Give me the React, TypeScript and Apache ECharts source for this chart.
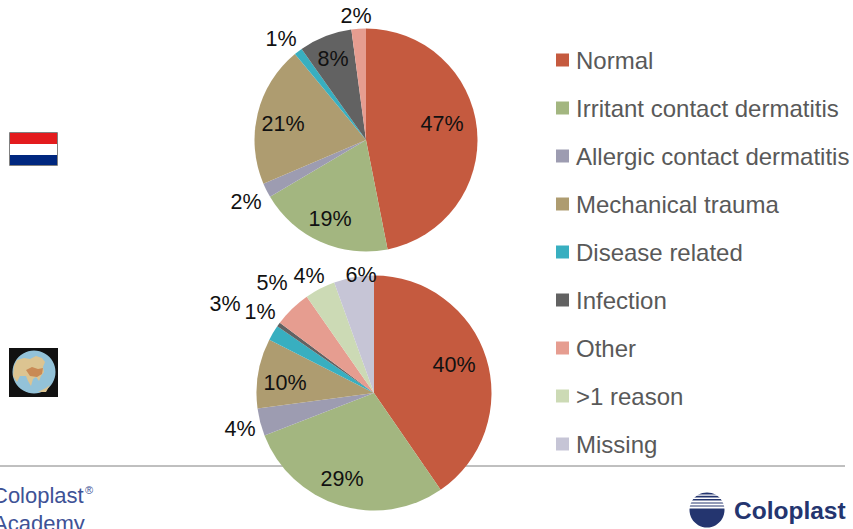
import React, { useEffect, useRef } from "react";
import * as echarts from "echarts";

const categories = ["Normal", "Irritant contact dermatitis", "Allergic contact dermatitis", "Mechanical trauma", "Disease related", "Infection", "Other", ">1 reason", "Missing"];
const colors = ["#c55a3f", "#a3b680", "#9d9cb1", "#ae9c70", "#38afc0", "#626262", "#e69d90", "#ccdab5", "#c6c5d6"];

const netherlandsValues = [46.9, 19.6, 2.1, 20.4, 1.2, 7.7, 2.1];
const netherlandsLabels = ["47%", "19%", "2%", "21%", "1%", "8%", "2%"];
const asiaValues = [40.4, 28.7, 3.8, 9.6, 2.1, 0.6, 5.1, 4.2, 5.5];
const asiaLabels = ["40%", "29%", "4%", "10%", "3%", "1%", "5%", "4%", "6%"];

const netherlandsLabelSpots = [[442, 124], [330, 219], [246, 202], [283, 124], [281, 39], [333, 59], [356, 16]];
const asiaLabelSpots = [[454, 365], [342, 479], [240, 429], [285, 383], [225, 304], [260, 312], [272, 283], [309, 276], [361, 275]];

const navy = "#24356f";

function pie(name: string, values: number[], labels: string[], spots: number[][], center: number[], radius: number) {
  return {
    type: "pie",
    name,
    center,
    radius,
    startAngle: 90,
    clockwise: true,
    avoidLabelOverlap: false,
    silent: true,
    itemStyle: { borderWidth: 0 },
    labelLine: { show: false },
    label: {
      show: true,
      position: "outside",
      color: "#111111",
      fontFamily: "Liberation Sans",
      fontSize: 21.5,
      formatter: (p: any) => labels[p.dataIndex],
    },
    labelLayout: (p: any) => ({
      x: spots[p.dataIndex][0],
      y: spots[p.dataIndex][1],
      align: "center",
      verticalAlign: "middle",
      hideOverlap: false,
    }),
    data: values.map((value, i) => ({ name: categories[i], value, itemStyle: { color: colors[i] } })),
  };
}

const stripeRects = [
  [494.5, 1.3], [497.5, 1.6], [500.5, 2], [503.5, 2], [506.5, 2],
].map(([y, h]) => ({ type: "rect", shape: { x: 688, y, width: 38, height: h }, style: { fill: "#ffffff" } }));

function graphics() {
  return [
    // Netherlands flag
    { type: "rect", shape: { x: 9.5, y: 132.5, width: 48, height: 33 }, style: { fill: "#ffffff", stroke: "#808080", lineWidth: 1 } },
    { type: "rect", shape: { x: 10, y: 133, width: 47, height: 11 }, style: { fill: "#e31b1d" } },
    { type: "rect", shape: { x: 10, y: 155, width: 47, height: 10 }, style: { fill: "#00277f" } },
    // Globe
    { type: "rect", shape: { x: 9, y: 348, width: 49, height: 49 }, style: { fill: "#111111" } },
    { type: "circle", shape: { cx: 34, cy: 372, r: 21.5 }, style: { fill: "#93c2d8" } },
    { type: "polygon", shape: { points: [[14, 366], [17, 360], [24, 358], [30, 359], [36, 356], [42, 358], [45, 362], [43, 367], [44, 372], [41, 376], [39, 381], [36, 377], [33, 379], [31, 386], [28, 381], [26, 376], [20, 376], [17, 382], [13, 376]] }, style: { fill: "#dcc491" } },
    { type: "polygon", shape: { points: [[26, 370], [32, 367], [38, 369], [43, 368], [42, 374], [37, 377], [30, 376]] }, style: { fill: "#c98a55" } },
    { type: "polygon", shape: { points: [[38, 392], [46, 388], [50, 385], [46, 392]] }, style: { fill: "#dcc491" } },
    // Footer rule
    { type: "line", shape: { x1: 0, y1: 466, x2: 845, y2: 466 }, style: { stroke: "#808080", lineWidth: 1 } },
    // Academy wordmark
    { type: "text", x: -8, y: 484, style: { text: "Coloplast", fontFamily: "Liberation Sans", fontSize: 22, fill: "#3e5296" } },
    { type: "text", x: 85, y: 484, style: { text: "®", fontFamily: "Liberation Sans", fontSize: 11, fill: "#3e5296" } },
    { type: "text", x: -7, y: 512, style: { text: "Academy", fontFamily: "Liberation Sans", fontSize: 22, fill: "#3e5296" } },
    // Coloplast logo
    { type: "circle", shape: { cx: 707, cy: 510, r: 17.5 }, style: { fill: navy } },
    ...stripeRects,
    { type: "text", x: 734, y: 498, style: { text: "Coloplast", fontFamily: "Liberation Sans", fontWeight: "bold", fontSize: 24.5, fill: navy } },
  ];
}

export default function App() {
  const ref = useRef<HTMLDivElement>(null);
  useEffect(() => {
    const chart = echarts.init(ref.current!, null, { renderer: "svg" });
    chart.setOption({
      animation: false,
      backgroundColor: "#ffffff",
      legend: {
        orient: "vertical",
        left: 551,
        top: 41,
        itemWidth: 13,
        itemHeight: 13,
        itemGap: 20,
        icon: "rect",
        selectedMode: false,
        data: categories,
        textStyle: { fontFamily: "Liberation Sans", fontSize: 24, color: "#595959", padding: [0, 0, 0, 2], lineHeight: 28 },
      },
      series: [
        pie("Netherlands", netherlandsValues, netherlandsLabels, netherlandsLabelSpots, [366, 140], 111.5),
        pie("Asia", asiaValues, asiaLabels, asiaLabelSpots, [374, 393], 117.5),
      ],
      graphic: { elements: graphics() },
    });
    return () => chart.dispose();
  }, []);
  return (
    <div style={{ position: "fixed", left: 0, top: 0, width: 853, height: 529, overflow: "hidden", background: "#fff" }}>
      <div ref={ref} style={{ width: 853, height: 529 }} />
    </div>
  );
}
